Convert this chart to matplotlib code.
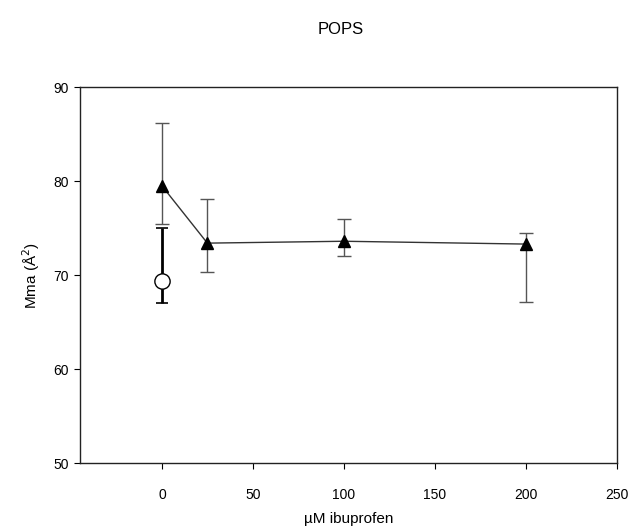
import matplotlib
matplotlib.use("Agg")
import matplotlib.pyplot as plt

plt.rcParams['font.family'] = ['Liberation Sans', 'DejaVu Sans']

# ibuprofen series (triangles)
conc = [0, 25, 100, 200]
mma = [79.5, 73.4, 73.6, 73.3]
err_low = [4.1, 3.1, 1.6, 6.2]
err_high = [6.7, 4.7, 2.4, 1.2]

# control point (open circle)
ctrl_conc = [0]
ctrl_mma = [69.4]
ctrl_low = [2.4]
ctrl_high = [5.6]

fig = plt.figure(figsize=(6.3, 5.28), dpi=100)
ax = fig.add_axes([0.127, 0.123, 0.852, 0.712])

ax.errorbar(conc, mma, yerr=[err_low, err_high], fmt='none', ecolor='#555555',
            elinewidth=1.0, capsize=5, capthick=1.0, zorder=2)
ax.plot(conc, mma, color='#333333', lw=1.0, marker='^', ms=8,
        mfc='black', mec='black', zorder=3)

ax.errorbar(ctrl_conc, ctrl_mma, yerr=[ctrl_low, ctrl_high], fmt='none',
            ecolor='black', elinewidth=2.0, capsize=4, capthick=1.2, zorder=4)
ax.plot(ctrl_conc, ctrl_mma, 'o', ms=11, mfc='white', mec='black', mew=1.0, zorder=5)

ax.set_xlim(-45, 250)
ax.set_ylim(50, 90)
ax.set_xticks([0, 50, 100, 150, 200, 250])
ax.set_yticks([50, 60, 70, 80, 90])
ax.tick_params(direction='out', length=4, labelsize=10, pad=14)
ax.tick_params(axis='y', pad=4)
for s in ax.spines.values():
    s.set_linewidth(1.0)
    s.set_color('#222222')

ax.set_xlabel('\u00b5M ibuprofen', fontsize=11, labelpad=7)
ax.set_ylabel('Mma (\u00c5$^2$)', fontsize=11, labelpad=8)
fig.text(0.54, 0.945, 'POPS', ha='center', va='center', fontsize=12)

fig.savefig('out.png', dpi=100)
